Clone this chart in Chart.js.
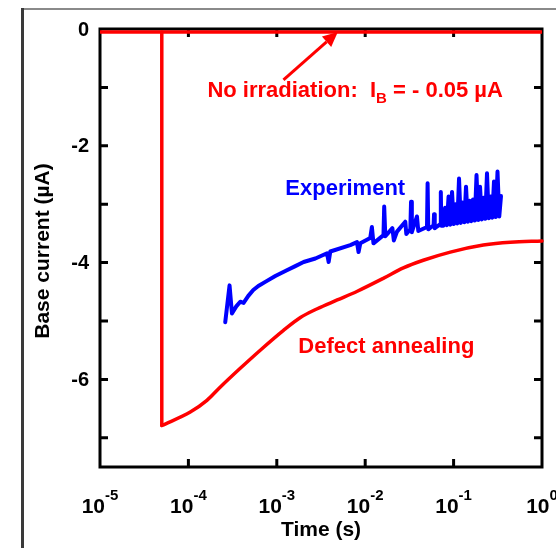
<!DOCTYPE html>
<html>
<head>
<meta charset="utf-8">
<script src="https://cdn.jsdelivr.net/npm/chart.js@4.4.1/dist/chart.umd.min.js"></script>
<style>
  html, body { margin: 0; padding: 0; background: #fff; }
  #wrap { width: 556px; height: 548px; position: relative; }
</style>
</head>
<body>
<div id="wrap"><canvas id="chart"></canvas></div>
<script>
/* ── Data (time in s, current in µA) ── */
const noIrrTime = [1e-5, 1];
const noIrrCurrent = [-0.05, -0.05];

// first two points = vertical drop at irradiation, rest = annealing recovery
const annealTime = [5.0e-5, 5.0e-5, 1.05e-4, 1.62e-4, 2.30e-4, 3.86e-4, 6.5e-4, 1.19e-3, 1.85e-3, 2.87e-3,
  4.83e-3, 8.14e-3, 1.60e-2, 2.70e-2, 4.54e-2, 9.18e-2, 0.217, 0.438, 1.0];
const annealCurrent = [-0.05, -6.79, -6.56, -6.36, -6.13, -5.81, -5.50, -5.16, -4.94, -4.79,
  -4.64, -4.49, -4.27, -4.09, -3.96, -3.82, -3.70, -3.65, -3.63];

const expTime = [2.61e-4, 2.92e-4, 3.11e-4, 3.48e-4, 3.86e-4, 4.21e-4, 4.76e-4, 5.42e-4, 6.18e-4, 7.41e-4,
  9.62e-4, 1.30e-3, 1.62e-3, 2.01e-3, 2.73e-3, 3.70e-3, 3.86e-3, 4.03e-3, 6.78e-3, 8.07e-3,
  8.41e-3, 8.80e-3, 1.14e-2, 1.19e-2, 1.24e-2, 1.61e-2, 1.64e-2, 1.69e-2, 2.03e-2, 2.11e-2,
  2.29e-2, 2.84e-2, 2.92e-2, 3.24e-2, 3.30e-2, 3.37e-2, 3.85e-2, 3.99e-2, 5.00e-2, 5.08e-2,
  5.17e-2, 5.94e-2, 6.01e-2, 6.12e-2, 7.08e-2, 7.17e-2, 7.26e-2,
  0.0765, 0.0801, 0.0838, 0.0877, 0.0918, 0.0960, 0.1005, 0.1052, 0.1101, 0.1152,
  0.1206, 0.1262, 0.1321, 0.1382, 0.1447, 0.1514, 0.1585, 0.1658, 0.1736, 0.1817,
  0.1901, 0.1990, 0.2083, 0.2180, 0.2281, 0.2387, 0.2499, 0.2615, 0.2737, 0.2864,
  0.2998, 0.3138, 0.3284, 0.3437];
const expCurrent = [-5.02, -4.39, -4.87, -4.75, -4.67, -4.69, -4.57, -4.47, -4.40, -4.33,
  -4.23, -4.13, -4.06, -3.99, -3.93, -3.84, -3.99, -3.81, -3.70, -3.65,
  -3.82, -3.67, -3.58, -3.39, -3.67, -3.53, -3.04, -3.55, -3.41, -3.62,
  -3.47, -3.30, -3.51, -3.43, -2.96, -3.48, -3.21, -3.46, -3.39, -2.64,
  -3.43, -3.36, -3.17, -3.41, -3.34, -2.79, -3.37,
  -3.37, -3.06, -3.36, -2.87, -3.35, -2.79, -3.34, -3.00, -3.33, -2.56,
  -3.32, -2.97, -3.31, -2.70, -3.30, -2.94, -3.29, -2.92, -3.28, -2.50,
  -3.27, -2.70, -3.26, -2.89, -3.25, -2.47, -3.24, -2.87, -3.23, -2.61,
  -3.22, -2.44, -3.21, -2.86];

const xTickExponents = [-5, -4, -3, -2, -1, 0];
const yTickLabels = [0, -2, -4, -6];
const yMinorTicks = [-1, -2, -3, -4, -5, -6, -7];

/* ── Annotation anchors (data coords) ── */
const noIrrLabel = { x: 1.64e-4, y: -1.16 };
const expLabel = { x: 1.25e-3, y: -2.84 };
const annealLabel = { x: 1.75e-3, y: -5.54 };
const arrowTail = { x: 1.19e-3, y: -0.87 };
const arrowTip = { x: 4.9e-3, y: -0.05 };

const RED = "#ff0000";
const BLUE = "#0000ff";
const FONT = "'Liberation Sans', Arial, sans-serif";

function pts(xs, ys) { return xs.map((x, i) => ({ x: x, y: ys[i] })); }

/* ── Frame, axes, labels ── */
const framePlugin = {
  id: "framePlugin",
  beforeDraw(chart) {
    const ctx = chart.ctx;
    ctx.save();
    ctx.strokeStyle = "#8a8a8a";
    ctx.lineWidth = 2;
    ctx.beginPath();
    ctx.moveTo(22, 9); ctx.lineTo(556, 9);
    ctx.stroke();
    ctx.strokeStyle = "#3a3a3a";
    ctx.lineWidth = 3;
    ctx.beginPath();
    ctx.moveTo(22.5, 548); ctx.lineTo(22.5, 8);
    ctx.stroke();
    ctx.restore();
  },
  beforeDatasetsDraw(chart) {
    const ctx = chart.ctx;
    const a = chart.chartArea;
    const xs = chart.scales.x, ys = chart.scales.y;
    ctx.save();
    ctx.strokeStyle = "#000";
    ctx.lineWidth = 3;
    ctx.lineCap = "square";
    ctx.strokeRect(a.left, a.top, a.right - a.left, a.bottom - a.top);
    ctx.lineCap = "butt";
    ctx.beginPath();
    xTickExponents.slice(1, -1).forEach(e => {
      const px = xs.getPixelForValue(Math.pow(10, e));
      ctx.moveTo(px, a.bottom); ctx.lineTo(px, a.bottom - 8);
      ctx.moveTo(px, a.top); ctx.lineTo(px, a.top + 8);
    });
    yMinorTicks.forEach(v => {
      const py = ys.getPixelForValue(v);
      ctx.moveTo(a.left, py); ctx.lineTo(a.left + 8, py);
      ctx.moveTo(a.right, py); ctx.lineTo(a.right - 8, py);
    });
    ctx.stroke();
    ctx.restore();
  },
  afterDatasetsDraw(chart) {
    const ctx = chart.ctx;
    const a = chart.chartArea;
    const xs = chart.scales.x, ys = chart.scales.y;
    ctx.save();
    ctx.fillStyle = "#000";

    // y tick labels
    ctx.font = "bold 20px " + FONT;
    ctx.textAlign = "right";
    ctx.textBaseline = "middle";
    yTickLabels.forEach(v => ctx.fillText(String(v), a.left - 11, ys.getPixelForValue(v) + 1));

    // x tick labels 10^n
    ctx.textAlign = "left";
    ctx.textBaseline = "alphabetic";
    xTickExponents.forEach(e => {
      const px = xs.getPixelForValue(Math.pow(10, e));
      ctx.font = "bold 21px " + FONT;
      const w10 = ctx.measureText("10").width;
      ctx.font = "bold 15px " + FONT;
      const wE = ctx.measureText(String(e)).width;
      const x0 = px - (w10 + wE) / 2;
      ctx.font = "bold 21px " + FONT;
      ctx.fillText("10", x0, a.bottom + 46);
      ctx.font = "bold 15px " + FONT;
      ctx.fillText(String(e), x0 + w10, a.bottom + 33);
    });

    // axis titles
    ctx.font = "bold 21px " + FONT;
    ctx.textAlign = "center";
    ctx.fillText("Time (s)", (a.left + a.right) / 2, a.bottom + 69);
    ctx.save();
    ctx.translate(43, (a.top + a.bottom) / 2 + 3);
    ctx.rotate(-Math.PI / 2);
    ctx.textBaseline = "middle";
    ctx.fillText("Base current (µA)", 0, 0);
    ctx.restore();

    // annotations
    ctx.textAlign = "left";
    ctx.font = "bold 22px " + FONT;
    ctx.fillStyle = BLUE;
    ctx.fillText("Experiment", xs.getPixelForValue(expLabel.x), ys.getPixelForValue(expLabel.y));
    ctx.fillStyle = RED;
    ctx.fillText("Defect annealing", xs.getPixelForValue(annealLabel.x), ys.getPixelForValue(annealLabel.y));

    let nx = xs.getPixelForValue(noIrrLabel.x);
    const ny = ys.getPixelForValue(noIrrLabel.y);
    ctx.font = "bold 22px " + FONT;
    ctx.fillText("No irradiation:  I", nx, ny);
    nx += ctx.measureText("No irradiation:  I").width;
    ctx.font = "bold 15px " + FONT;
    ctx.fillText("B", nx, ny + 6);
    nx += ctx.measureText("B").width;
    ctx.font = "bold 22px " + FONT;
    ctx.fillText(" = - 0.05 µA", nx, ny);

    // arrow
    const tx = xs.getPixelForValue(arrowTail.x), ty = ys.getPixelForValue(arrowTail.y);
    const hx = xs.getPixelForValue(arrowTip.x), hy = ys.getPixelForValue(arrowTip.y);
    const ang = Math.atan2(hy - ty, hx - tx);
    const hl = 15, hw = 7;
    const bx = hx - hl * Math.cos(ang), by = hy - hl * Math.sin(ang);
    ctx.strokeStyle = RED;
    ctx.lineWidth = 3;
    ctx.beginPath();
    ctx.moveTo(tx, ty); ctx.lineTo(bx, by);
    ctx.stroke();
    ctx.beginPath();
    ctx.moveTo(hx, hy);
    ctx.lineTo(bx + hw * Math.sin(ang), by - hw * Math.cos(ang));
    ctx.lineTo(bx - hw * Math.sin(ang), by + hw * Math.cos(ang));
    ctx.closePath();
    ctx.fill();
    ctx.restore();
  }
};

/* ── Chart ── */
new Chart(document.getElementById("chart"), {
  type: "scatter",
  data: {
    datasets: [
      { label: "No irradiation", data: pts(noIrrTime, noIrrCurrent), showLine: true,
        borderColor: RED, borderWidth: 3.5, pointRadius: 0, clip: 6 },
      { label: "Drop", data: pts(annealTime.slice(0, 2), annealCurrent.slice(0, 2)), showLine: true,
        borderColor: RED, borderWidth: 3.5, pointRadius: 0, clip: 6, borderCapStyle: "round" },
      { label: "Defect annealing", data: pts(annealTime.slice(1), annealCurrent.slice(1)), showLine: true,
        borderColor: RED, borderWidth: 3.5, pointRadius: 0, clip: 6, cubicInterpolationMode: "monotone",
        borderCapStyle: "round" },
      { label: "Experiment", data: pts(expTime, expCurrent), showLine: true,
        borderColor: BLUE, borderWidth: 4, pointRadius: 0, borderJoinStyle: "round", borderCapStyle: "round" }
    ]
  },
  options: {
    responsive: true,
    maintainAspectRatio: false,
    animation: false,
    events: [],
    layout: { padding: { left: 100, right: 14, top: 29, bottom: 81 } },
    plugins: { legend: { display: false }, tooltip: { enabled: false } },
    scales: {
      x: { type: "logarithmic", min: 1e-5, max: 1, display: false },
      y: { type: "linear", min: -7.5, max: 0, display: false }
    }
  },
  plugins: [framePlugin]
});
</script>
</body>
</html>
